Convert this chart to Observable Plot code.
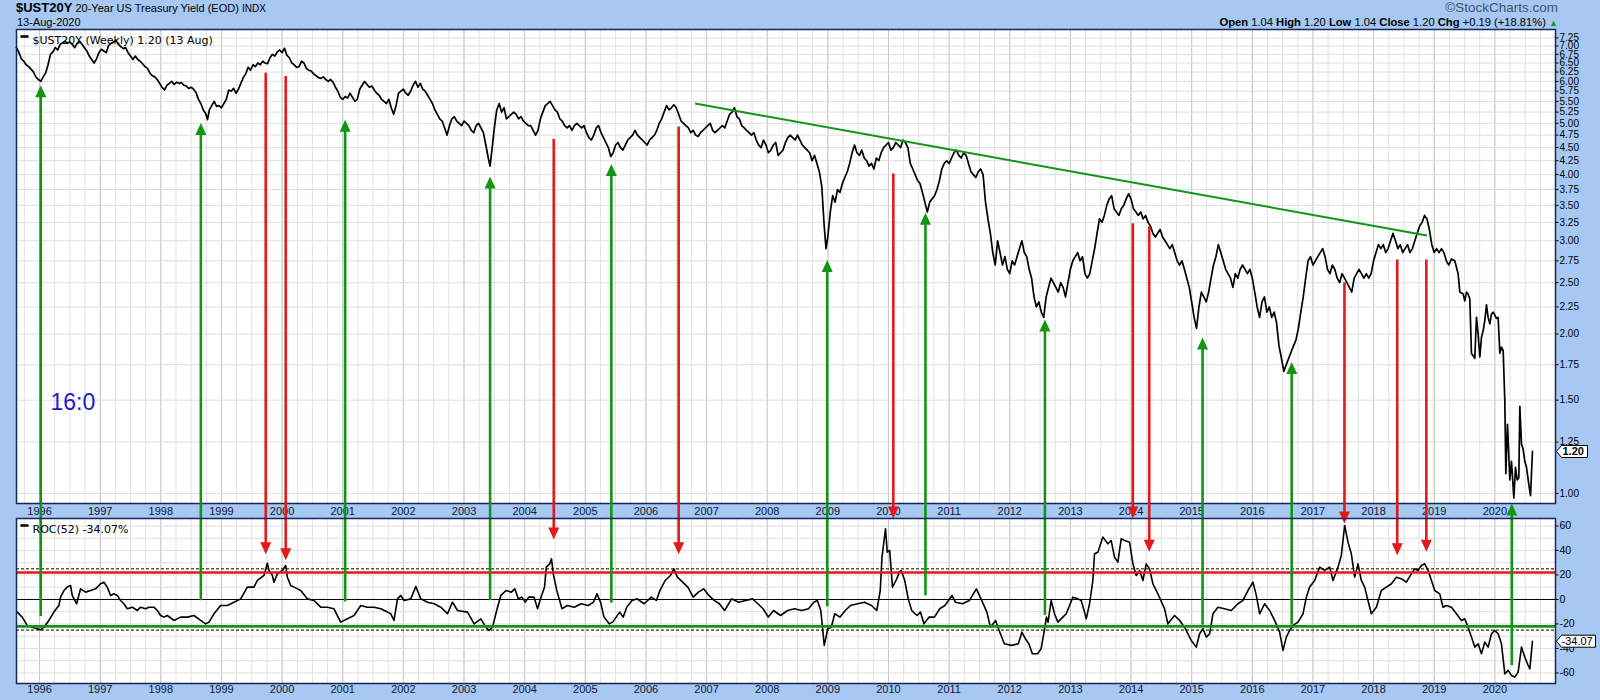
<!DOCTYPE html>
<html><head><meta charset="utf-8">
<script src="https://cdn.jsdelivr.net/npm/d3@7"></script>
<script src="https://cdn.jsdelivr.net/npm/@observablehq/plot@0.6"></script>
<style>
html,body{margin:0;padding:0;background:#a6c8f2;}
#chart{position:relative;width:1600px;height:700px;background:#a6c8f2;overflow:hidden;font-family:"Liberation Sans",Arial,sans-serif;color:#000;}
.abs{position:absolute;white-space:nowrap;}
.pl{position:absolute;left:0;width:1600px;}
</style></head><body>
<div id="chart">
  <div class="abs" style="left:16px;top:0px;font-size:11px;line-height:15px;"><b style="font-size:13px">$UST20Y</b> 20-Year US Treasury Yield (EOD) <span style="font-size:10px">INDX</span></div>
  <div class="abs" style="left:17px;top:15px;font-size:11px;line-height:14px;">13-Aug-2020</div>
  <div class="abs" style="right:42px;top:0px;font-size:13.5px;line-height:15px;color:#44526e;">©StockCharts.com</div>
  <div class="abs" style="right:42px;top:15px;font-size:11.2px;line-height:14px;"><b>Open</b> 1.04 <b>High</b> 1.20 <b>Low</b> 1.04 <b>Close</b> 1.20 <b>Chg</b> +0.19 (+18.81%) <span style="color:#139613;font-size:9px">▲</span></div>
  <div id="top" class="pl" style="top:29px"></div>
  <div id="band" class="pl" style="top:503px"></div>
  <div id="bottom" class="pl" style="top:518px"></div>
</div>
<script>
// ---------- data ----------
const yearTicks = [1996,1997,1998,1999,2000,2001,2002,2003,2004,2005,2006,2007,2008,2009,2010,2011,2012,2013,2014,2015,2016,2017,2018,2019,2020];
const yieldTicks = [1.00,1.25,1.50,1.75,2.00,2.25,2.50,2.75,3.00,3.25,3.50,3.75,4.00,4.25,4.50,4.75,5.00,5.25,5.50,5.75,6.00,6.25,6.50,6.75,7.00,7.25];
const rocTicks = [-60,-40,-20,0,20,40,60];
const rocGrid = [-60,-50,-40,-30,-20,-10,0,10,20,30,40,50,60];
const rocBands = [25,-25];
const rocSell = [22];
const rocBuy = [-22];

// weekly 20-year yield (decimal year, %)
const yieldPoints = [
[1995.62,6.95],[1995.66,6.80],[1995.70,6.62],[1995.74,6.55],[1995.78,6.45],[1995.82,6.40],[1995.86,6.33],[1995.90,6.25],[1995.94,6.12],[1995.98,6.05],
[1996.02,6.00],[1996.06,6.12],[1996.10,6.22],[1996.14,6.45],[1996.18,6.75],[1996.22,6.82],[1996.26,6.95],[1996.30,6.88],[1996.34,7.05],[1996.38,7.10],
[1996.42,7.15],[1996.46,7.08],[1996.50,7.12],[1996.54,7.05],[1996.58,6.95],[1996.62,7.08],[1996.66,7.15],[1996.70,7.05],[1996.74,6.95],[1996.78,6.85],
[1996.82,6.70],[1996.86,6.60],[1996.90,6.50],[1996.94,6.62],[1996.98,6.80],[1997.02,6.90],[1997.06,6.85],[1997.10,6.80],[1997.14,7.02],[1997.18,7.08],
[1997.22,7.12],[1997.26,7.18],[1997.30,7.05],[1997.34,6.98],[1997.38,6.92],[1997.42,6.95],[1997.46,6.80],[1997.50,6.70],[1997.54,6.60],[1997.58,6.70],
[1997.62,6.60],[1997.66,6.55],[1997.70,6.48],[1997.74,6.40],[1997.78,6.35],[1997.82,6.22],[1997.86,6.15],[1997.90,6.12],[1997.94,6.05],[1997.98,5.95],
[1998.02,5.85],[1998.06,5.78],[1998.10,5.90],[1998.14,5.95],[1998.18,6.00],[1998.22,5.92],[1998.26,5.98],[1998.30,5.95],[1998.34,5.97],[1998.38,5.90],
[1998.42,5.88],[1998.46,5.82],[1998.50,5.85],[1998.54,5.80],[1998.58,5.72],[1998.62,5.55],[1998.66,5.45],[1998.70,5.30],[1998.74,5.22],[1998.77,5.08],
[1998.80,5.30],[1998.84,5.40],[1998.88,5.50],[1998.92,5.38],[1998.96,5.40],[1999.00,5.35],[1999.04,5.45],[1999.08,5.55],[1999.12,5.78],[1999.16,5.75],
[1999.20,5.82],[1999.24,5.70],[1999.28,5.80],[1999.32,5.95],[1999.36,6.10],[1999.40,6.20],[1999.44,6.38],[1999.48,6.30],[1999.52,6.45],[1999.56,6.40],
[1999.60,6.50],[1999.64,6.45],[1999.68,6.55],[1999.72,6.50],[1999.76,6.48],[1999.80,6.65],[1999.84,6.75],[1999.88,6.70],[1999.92,6.82],[1999.96,6.88],
[2000.00,6.80],[2000.04,6.93],[2000.08,6.72],[2000.12,6.65],[2000.16,6.50],[2000.20,6.45],[2000.24,6.38],[2000.28,6.40],[2000.32,6.55],[2000.36,6.50],
[2000.40,6.35],[2000.44,6.30],[2000.48,6.28],[2000.52,6.20],[2000.56,6.15],[2000.60,6.10],[2000.64,6.08],[2000.68,6.12],[2000.72,6.05],[2000.76,6.00],
[2000.80,6.05],[2000.84,5.98],[2000.88,5.85],[2000.92,5.75],[2000.96,5.60],[2001.00,5.55],[2001.04,5.62],[2001.08,5.58],[2001.12,5.70],[2001.16,5.60],
[2001.20,5.50],[2001.24,5.55],[2001.28,5.80],[2001.32,5.90],[2001.36,6.00],[2001.40,5.92],[2001.44,5.85],[2001.48,5.88],[2001.52,5.78],[2001.56,5.70],
[2001.60,5.65],[2001.64,5.55],[2001.68,5.50],[2001.72,5.45],[2001.76,5.55],[2001.80,5.35],[2001.84,5.20],[2001.88,5.40],[2001.92,5.70],[2001.96,5.75],
[2002.00,5.80],[2002.04,5.70],[2002.08,5.65],[2002.12,5.75],[2002.16,5.90],[2002.20,6.00],[2002.24,5.85],[2002.28,5.95],[2002.32,5.80],[2002.36,5.75],
[2002.40,5.65],[2002.44,5.55],[2002.48,5.45],[2002.52,5.30],[2002.56,5.20],[2002.60,5.10],[2002.64,5.05],[2002.68,4.90],[2002.72,4.75],[2002.76,4.95],
[2002.80,5.10],[2002.84,5.15],[2002.88,5.05],[2002.92,5.00],[2002.96,4.95],[2003.00,5.05],[2003.04,5.00],[2003.08,4.95],[2003.12,4.85],[2003.16,4.80],
[2003.20,4.95],[2003.24,5.00],[2003.28,4.90],[2003.32,4.80],[2003.36,4.55],[2003.40,4.30],[2003.43,4.15],[2003.46,4.45],[2003.50,4.90],[2003.54,5.30],
[2003.58,5.45],[2003.62,5.25],[2003.66,5.35],[2003.70,5.10],[2003.74,5.15],[2003.78,5.20],[2003.82,5.25],[2003.86,5.20],[2003.90,5.10],[2003.94,5.15],
[2003.98,5.05],[2004.02,5.00],[2004.06,4.95],[2004.10,4.95],[2004.14,4.85],[2004.18,4.75],[2004.22,4.85],[2004.26,5.10],[2004.30,5.25],[2004.34,5.40],
[2004.38,5.45],[2004.42,5.50],[2004.46,5.40],[2004.50,5.30],[2004.54,5.25],[2004.58,5.10],[2004.62,5.05],[2004.66,4.95],[2004.70,4.90],[2004.74,4.95],
[2004.78,4.85],[2004.82,4.95],[2004.86,5.00],[2004.90,4.95],[2004.94,4.90],[2004.98,4.95],[2005.02,4.80],[2005.06,4.70],[2005.10,4.65],[2005.14,4.75],
[2005.18,4.90],[2005.22,4.95],[2005.26,4.80],[2005.30,4.70],[2005.34,4.60],[2005.38,4.50],[2005.42,4.33],[2005.46,4.40],[2005.50,4.55],[2005.54,4.60],
[2005.58,4.50],[2005.62,4.45],[2005.66,4.55],[2005.70,4.65],[2005.74,4.70],[2005.78,4.75],[2005.82,4.85],[2005.86,4.75],[2005.90,4.70],[2005.94,4.65],
[2005.98,4.60],[2006.02,4.55],[2006.06,4.65],[2006.10,4.70],[2006.14,4.75],[2006.18,4.85],[2006.22,5.00],[2006.26,5.10],[2006.30,5.25],[2006.34,5.40],
[2006.38,5.30],[2006.42,5.35],[2006.46,5.42],[2006.50,5.35],[2006.54,5.20],[2006.58,5.05],[2006.62,5.00],[2006.66,4.95],[2006.70,4.90],[2006.74,4.80],
[2006.78,4.85],[2006.82,4.75],[2006.86,4.72],[2006.90,4.80],[2006.94,4.85],[2006.98,4.90],[2007.02,4.95],[2007.06,5.00],[2007.10,4.85],[2007.14,4.80],
[2007.18,4.85],[2007.22,4.90],[2007.26,4.95],[2007.30,4.90],[2007.34,5.05],[2007.38,5.20],[2007.42,5.25],[2007.46,5.35],[2007.50,5.15],[2007.54,5.10],
[2007.58,4.95],[2007.62,4.90],[2007.66,4.85],[2007.70,4.80],[2007.74,4.75],[2007.78,4.80],[2007.82,4.65],[2007.86,4.55],[2007.90,4.50],[2007.94,4.65],
[2007.98,4.55],[2008.02,4.40],[2008.06,4.45],[2008.10,4.55],[2008.14,4.60],[2008.18,4.35],[2008.22,4.40],[2008.26,4.45],[2008.30,4.60],[2008.34,4.70],
[2008.38,4.75],[2008.42,4.70],[2008.46,4.65],[2008.50,4.75],[2008.54,4.65],[2008.58,4.55],[2008.62,4.50],[2008.66,4.45],[2008.70,4.40],[2008.74,4.25],
[2008.78,4.35],[2008.82,4.20],[2008.86,4.05],[2008.90,3.80],[2008.94,3.20],[2008.97,2.90],[2009.00,3.05],[2009.04,3.40],[2009.08,3.65],[2009.12,3.55],
[2009.16,3.75],[2009.20,3.70],[2009.24,3.85],[2009.28,3.95],[2009.32,4.05],[2009.36,4.20],[2009.40,4.40],[2009.44,4.55],[2009.48,4.40],[2009.52,4.35],
[2009.56,4.45],[2009.60,4.30],[2009.64,4.25],[2009.68,4.15],[2009.72,4.20],[2009.76,4.10],[2009.80,4.30],[2009.84,4.25],[2009.88,4.40],[2009.92,4.50],
[2009.96,4.55],[2010.00,4.60],[2010.04,4.45],[2010.08,4.50],[2010.12,4.60],[2010.16,4.55],[2010.20,4.50],[2010.24,4.65],[2010.28,4.60],[2010.32,4.50],
[2010.36,4.20],[2010.40,4.10],[2010.44,4.00],[2010.48,3.90],[2010.52,3.85],[2010.56,3.70],[2010.60,3.55],[2010.64,3.40],[2010.68,3.55],[2010.72,3.60],
[2010.76,3.65],[2010.80,3.75],[2010.84,3.90],[2010.88,4.10],[2010.92,4.20],[2010.96,4.25],[2011.00,4.20],[2011.04,4.30],[2011.08,4.40],[2011.12,4.45],
[2011.16,4.35],[2011.20,4.30],[2011.24,4.40],[2011.28,4.35],[2011.32,4.20],[2011.36,4.05],[2011.40,4.00],[2011.44,3.95],[2011.48,4.05],[2011.52,4.10],
[2011.56,4.00],[2011.60,3.55],[2011.64,3.30],[2011.68,3.10],[2011.72,2.85],[2011.76,2.70],[2011.80,3.00],[2011.84,2.85],[2011.88,2.70],[2011.92,2.80],
[2011.96,2.65],[2012.00,2.60],[2012.04,2.75],[2012.08,2.70],[2012.12,2.80],[2012.16,2.90],[2012.20,3.00],[2012.24,2.85],[2012.28,2.80],[2012.32,2.65],
[2012.36,2.55],[2012.40,2.35],[2012.44,2.25],[2012.48,2.30],[2012.52,2.20],[2012.56,2.15],[2012.60,2.35],[2012.64,2.45],[2012.68,2.55],[2012.72,2.50],
[2012.76,2.45],[2012.80,2.40],[2012.84,2.50],[2012.88,2.45],[2012.92,2.35],[2012.96,2.50],[2013.00,2.65],[2013.04,2.75],[2013.08,2.80],[2013.12,2.85],
[2013.16,2.75],[2013.20,2.80],[2013.24,2.60],[2013.28,2.55],[2013.32,2.60],[2013.36,2.75],[2013.40,2.90],[2013.44,3.10],[2013.48,3.30],[2013.52,3.25],
[2013.56,3.35],[2013.60,3.50],[2013.64,3.60],[2013.68,3.65],[2013.72,3.45],[2013.76,3.40],[2013.80,3.35],[2013.84,3.45],[2013.88,3.50],[2013.92,3.60],
[2013.96,3.68],[2014.00,3.60],[2014.04,3.45],[2014.08,3.40],[2014.12,3.35],[2014.16,3.40],[2014.20,3.30],[2014.24,3.35],[2014.28,3.25],[2014.32,3.20],
[2014.36,3.10],[2014.40,3.05],[2014.44,3.10],[2014.48,3.15],[2014.52,3.05],[2014.56,3.00],[2014.60,2.95],[2014.64,2.90],[2014.68,2.95],[2014.72,2.85],
[2014.76,2.75],[2014.80,2.70],[2014.84,2.75],[2014.88,2.65],[2014.92,2.55],[2014.96,2.45],[2015.00,2.30],[2015.04,2.15],[2015.08,2.05],[2015.12,2.25],
[2015.16,2.40],[2015.20,2.35],[2015.24,2.30],[2015.28,2.40],[2015.32,2.55],[2015.36,2.70],[2015.40,2.80],[2015.44,2.95],[2015.48,2.85],[2015.52,2.75],
[2015.56,2.65],[2015.60,2.60],[2015.64,2.55],[2015.68,2.45],[2015.72,2.60],[2015.76,2.55],[2015.80,2.65],[2015.84,2.70],[2015.88,2.65],[2015.92,2.60],
[2015.96,2.65],[2016.00,2.55],[2016.04,2.40],[2016.08,2.25],[2016.12,2.15],[2016.16,2.30],[2016.20,2.35],[2016.24,2.20],[2016.28,2.25],[2016.32,2.15],
[2016.36,2.20],[2016.40,2.10],[2016.44,1.90],[2016.48,1.80],[2016.52,1.70],[2016.56,1.75],[2016.60,1.80],[2016.64,1.85],[2016.68,1.90],[2016.72,1.95],
[2016.76,2.05],[2016.80,2.20],[2016.84,2.35],[2016.88,2.55],[2016.92,2.75],[2016.96,2.80],[2017.00,2.70],[2017.04,2.75],[2017.08,2.80],[2017.12,2.85],
[2017.16,2.90],[2017.20,2.80],[2017.24,2.65],[2017.28,2.60],[2017.32,2.70],[2017.36,2.65],[2017.40,2.55],[2017.44,2.50],[2017.48,2.60],[2017.52,2.55],
[2017.56,2.50],[2017.60,2.45],[2017.64,2.40],[2017.68,2.55],[2017.72,2.60],[2017.76,2.65],[2017.80,2.60],[2017.84,2.55],[2017.88,2.60],[2017.92,2.55],
[2017.96,2.60],[2018.00,2.75],[2018.04,2.85],[2018.08,2.95],[2018.12,2.90],[2018.16,2.95],[2018.20,2.85],[2018.24,2.90],[2018.28,3.00],[2018.32,3.10],
[2018.36,3.00],[2018.40,2.90],[2018.44,2.95],[2018.48,2.85],[2018.52,2.90],[2018.56,2.95],[2018.60,2.85],[2018.64,2.90],[2018.68,3.00],[2018.72,3.10],
[2018.76,3.20],[2018.80,3.25],[2018.84,3.35],[2018.88,3.30],[2018.92,3.15],[2018.96,2.95],[2019.00,2.85],[2019.04,2.90],[2019.08,2.85],[2019.12,2.90],
[2019.16,2.85],[2019.20,2.75],[2019.24,2.70],[2019.284,2.77],[2019.339,2.75],[2019.394,2.60],[2019.422,2.40],[2019.477,2.38],[2019.504,2.31],[2019.532,2.40],
[2019.559,2.38],[2019.587,2.33],[2019.614,1.84],[2019.669,1.80],[2019.697,2.15],[2019.724,2.00],[2019.752,1.81],[2019.779,1.97],[2019.807,2.03],[2019.834,2.12],
[2019.862,2.27],[2019.889,2.15],[2019.917,2.09],[2019.944,2.18],[2019.972,2.20],[2020.027,2.14],[2020.054,2.15],[2020.082,1.84],[2020.109,1.89],[2020.137,1.86],
[2020.164,1.50],[2020.181,1.09],[2020.208,1.35],[2020.247,1.06],[2020.274,1.15],[2020.313,0.98],[2020.340,1.12],[2020.368,1.06],[2020.395,1.07],[2020.412,1.46],
[2020.439,1.24],[2020.467,1.21],[2020.494,1.15],[2020.522,1.12],[2020.560,1.04],[2020.588,0.99],[2020.620,1.20]
];

// ROC(52) of the yield (decimal year, %)
const rocPoints = [
[1995.632,-10.3],[1995.714,-14.4],[1995.797,-21.2],[1995.879,-22.6],[1995.962,-23.9],[1996.017,-24.8],[1996.071,-22.6],[1996.154,-17.1],[1996.236,-10.3],[1996.319,-4.9],
[1996.347,1.9],[1996.402,7.3],[1996.457,10.1],[1996.512,11.4],[1996.539,3.3],[1996.611,-3.5],[1996.677,8.7],[1996.759,6.0],[1996.842,7.3],[1996.924,8.7],
[1997.007,12.8],[1997.061,14.1],[1997.117,10.1],[1997.172,3.3],[1997.226,4.6],[1997.282,3.3],[1997.337,-0.8],[1997.391,-3.5],[1997.447,-7.6],[1997.530,-6.3],
[1997.612,-9.0],[1997.667,-6.3],[1997.749,-7.6],[1997.804,-6.3],[1997.886,-6.3],[1997.942,-9.0],[1997.997,-13.1],[1998.051,-14.4],[1998.107,-13.1],[1998.216,-17.1],
[1998.327,-14.4],[1998.437,-14.4],[1998.546,-13.1],[1998.657,-17.1],[1998.739,-19.9],[1998.794,-18.5],[1998.876,-11.7],[1998.987,-4.9],[1999.097,-4.9],[1999.206,-2.2],
[1999.317,0.5],[1999.427,10.1],[1999.536,10.1],[1999.592,15.5],[1999.701,19.6],[1999.757,29.6],[1999.784,23.7],[1999.840,19.6],[1999.866,14.1],[1999.922,20.9],
[2000.005,23.7],[2000.059,27.7],[2000.087,18.2],[2000.142,11.4],[2000.196,10.1],[2000.307,7.3],[2000.417,0.5],[2000.526,-0.8],[2000.637,-6.3],[2000.747,-6.3],
[2000.856,-7.6],[2000.912,-13.1],[2000.967,-18.5],[2001.077,-15.8],[2001.186,-13.1],[2001.297,-4.9],[2001.407,-6.3],[2001.516,-6.3],[2001.627,-7.6],[2001.738,-10.3],
[2001.792,-11.7],[2001.846,-17.1],[2001.903,0.5],[2001.957,3.3],[2002.011,-0.8],[2002.122,0.5],[2002.205,10.6],[2002.287,0.5],[2002.398,-2.2],[2002.507,-3.5],
[2002.617,-6.3],[2002.728,-11.7],[2002.810,-2.2],[2002.893,-9.0],[2003.058,-10.3],[2003.167,-19.9],[2003.277,-15.8],[2003.360,-22.6],[2003.414,-25.3],[2003.470,-22.6],
[2003.553,-6.3],[2003.607,3.3],[2003.694,7.3],[2003.780,6.0],[2003.838,8.7],[2003.895,0.5],[2003.953,1.9],[2004.011,-2.2],[2004.068,1.9],[2004.155,1.9],
[2004.213,-7.6],[2004.270,1.9],[2004.328,10.1],[2004.357,26.4],[2004.414,29.1],[2004.443,33.2],[2004.472,20.9],[2004.530,7.3],[2004.616,-7.6],[2004.703,-4.9],
[2004.818,-6.3],[2004.933,-3.5],[2005.049,-4.9],[2005.135,-2.2],[2005.193,4.6],[2005.251,-2.2],[2005.308,-14.4],[2005.395,-19.9],[2005.452,-18.5],[2005.568,-10.3],
[2005.625,-14.4],[2005.683,-6.3],[2005.770,-0.8],[2005.856,0.5],[2005.971,-3.5],[2006.087,1.9],[2006.173,-0.8],[2006.231,7.3],[2006.318,15.5],[2006.404,19.6],
[2006.462,25.0],[2006.519,18.2],[2006.606,14.1],[2006.692,10.1],[2006.779,1.9],[2006.865,6.0],[2006.952,8.7],[2007.038,3.3],[2007.125,-0.8],[2007.211,-3.5],
[2007.298,-9.0],[2007.413,0.5],[2007.529,-2.2],[2007.644,-0.8],[2007.759,0.5],[2007.846,-3.5],[2007.932,-7.6],[2008.019,-14.4],[2008.105,-9.0],[2008.220,-13.1],
[2008.336,-9.0],[2008.451,-7.6],[2008.567,-9.0],[2008.682,-7.6],[2008.768,-2.2],[2008.826,-0.8],[2008.884,-9.0],[2008.941,-37.5],[2008.999,-23.9],[2009.057,-22.6],
[2009.114,-11.7],[2009.201,-14.4],[2009.287,-9.0],[2009.374,-4.9],[2009.489,-3.5],[2009.605,-2.2],[2009.720,-4.9],[2009.807,-9.0],[2009.864,7.3],[2009.893,34.5],
[2009.951,57.7],[2009.980,38.6],[2010.020,40.0],[2010.066,10.1],[2010.124,15.5],[2010.181,22.3],[2010.210,23.7],[2010.268,15.5],[2010.326,0.5],[2010.383,-9.0],
[2010.470,-13.1],[2010.527,-10.3],[2010.585,-19.9],[2010.672,-14.4],[2010.758,-14.4],[2010.845,-7.6],[2010.931,-4.9],[2011.047,3.3],[2011.104,-2.2],[2011.219,-3.5],
[2011.335,-0.8],[2011.450,8.7],[2011.537,-0.8],[2011.623,-10.3],[2011.681,-22.6],[2011.767,-17.1],[2011.825,-25.3],[2011.911,-36.2],[2012.027,-37.5],[2012.142,-36.2],
[2012.200,-26.7],[2012.258,-32.1],[2012.315,-36.2],[2012.373,-44.3],[2012.459,-44.3],[2012.517,-40.3],[2012.575,-23.9],[2012.604,-14.4],[2012.632,-18.5],[2012.683,-0.8],
[2012.738,-11.7],[2012.793,-18.5],[2012.876,-14.4],[2012.931,-11.7],[2012.986,-4.9],[2013.041,1.9],[2013.123,0.5],[2013.178,-0.8],[2013.233,-10.3],[2013.261,-15.8],
[2013.316,-3.5],[2013.371,15.5],[2013.398,37.3],[2013.453,38.6],[2013.536,50.9],[2013.618,45.4],[2013.673,48.1],[2013.728,34.5],[2013.783,30.5],[2013.838,49.5],
[2013.893,48.1],[2013.976,46.8],[2014.031,29.1],[2014.086,19.6],[2014.141,23.7],[2014.196,15.5],[2014.251,29.1],[2014.306,25.0],[2014.361,12.8],[2014.443,4.6],
[2014.553,-7.6],[2014.608,-19.9],[2014.718,-13.1],[2014.801,-17.1],[2014.883,-22.6],[2014.993,-33.5],[2015.076,-38.9],[2015.131,-28.0],[2015.186,-23.9],[2015.241,-30.7],
[2015.296,-28.0],[2015.351,-11.7],[2015.433,-6.3],[2015.543,-7.6],[2015.653,-9.0],[2015.763,-3.5],[2015.846,-0.8],[2015.928,7.3],[2016.011,14.1],[2016.066,3.3],
[2016.121,-11.7],[2016.203,-3.5],[2016.286,-9.0],[2016.368,-17.1],[2016.451,-26.7],[2016.506,-41.6],[2016.561,-30.7],[2016.616,-25.3],[2016.671,-21.2],[2016.753,-18.5],
[2016.836,-11.7],[2016.891,1.9],[2016.946,10.1],[2017.028,15.5],[2017.111,26.4],[2017.193,23.7],[2017.276,26.4],[2017.331,15.5],[2017.413,26.4],[2017.468,35.9],
[2017.523,60.4],[2017.578,46.8],[2017.633,37.3],[2017.688,18.2],[2017.743,29.1],[2017.798,15.5],[2017.853,10.1],[2017.908,-0.8],[2017.963,-11.7],[2018.046,-6.3],
[2018.128,7.3],[2018.211,10.1],[2018.294,12.8],[2018.376,18.2],[2018.458,16.9],[2018.541,14.1],[2018.623,20.9],[2018.678,25.0],[2018.733,23.7],[2018.788,27.7],
[2018.843,29.1],[2018.899,23.7],[2018.954,15.5],[2019.008,7.3],[2019.091,4.6],[2019.146,-6.3],[2019.201,-4.9],[2019.284,-6.3],[2019.366,-11.7],[2019.449,-17.1],
[2019.504,-15.8],[2019.559,-22.6],[2019.614,-30.7],[2019.669,-38.9],[2019.724,-36.2],[2019.779,-44.3],[2019.834,-34.8],[2019.889,-38.9],[2019.944,-28.0],[2019.999,-25.3],
[2020.054,-28.0],[2020.109,-36.2],[2020.164,-60.7],[2020.219,-57.9],[2020.274,-62.0],[2020.329,-63.4],[2020.384,-59.3],[2020.439,-38.9],[2020.494,-47.1],[2020.549,-53.9],
[2020.577,-56.6],[2020.620,-34.07]
];

// annotation arrows: green = buy (from ROC level up to yield level), red = sell (from yield level down to ROC level)
const greenArrowDates = [1996.02,1998.66,2001.04,2003.43,2005.43,2008.99,2010.61,2012.58,2015.18,2016.65,2020.28];
const greenArrowFromRoc = [-14,-1,-2,-1,-3,-6,3,-13,-21,-21,-54];
const greenArrowToYield = [5.90,5.01,5.08,3.97,4.19,2.76,3.39,2.13,1.97,1.77,null];
const redArrowDates = [1999.73,2000.06,2004.48,2006.54,2010.08,2014.03,2014.30,2017.52,2018.39,2018.87];
const redArrowFromYield = [6.22,6.13,4.66,4.92,4.01,3.23,3.19,2.50,2.76,2.76];
const redArrowToRoc = [37,32,49,37,null,null,39,62,36,39];
const trendDates = [2006.81,2018.88];
const trendYields = [5.45,3.07];
const noteLabels = ["16:0"];
const noteDates = [1996.18];
const noteYields = [1.485];
const lastYield = 1.20, lastRoc = -34.07;

// ---------- build ----------
const GREEN = "#149414", RED = "#e21a1a", NAVY = "#17275a";
const xDomain = [1995.62, 2021.0];
const yDomain = [0.957, 7.52];
const rocDomain = [-68.6, 66.1];
const yieldData = yieldPoints.map(([t, v]) => ({t, v}));
const rocData = rocPoints.map(([t, v]) => ({t, v}));
const greens = greenArrowDates.map((t, i) => ({t, from: greenArrowFromRoc[i], to: greenArrowToYield[i]}));
const reds = redArrowDates.map((t, i) => ({t, from: redArrowFromYield[i], to: redArrowToRoc[i]}));
const quarters = [1995.75].concat(...yearTicks.map(y => [y, y + 0.25, y + 0.5, y + 0.75]));
const trend = [{x1: trendDates[0], y1: trendYields[0], x2: trendDates[1], y2: trendYields[1]}];
const notes = noteLabels.map((label, i) => ({label, t: noteDates[i], v: noteYields[i]}));

const upHead = {draw(c) { c.moveTo(0, 0); c.lineTo(5.5, 12); c.lineTo(-5.5, 12); c.closePath(); }};
const downHead = {draw(c) { c.moveTo(0, 0); c.lineTo(5.5, -12); c.lineTo(-5.5, -12); c.closePath(); }};
const tickSym = {draw(c) { c.moveTo(0, 0); c.lineTo(3, 0); }};
const dashSym = {draw(c) { c.moveTo(0, 0); c.lineTo(8, 0); }};
const boxSym = (w) => ({draw(c) { c.moveTo(0, 0); c.lineTo(5, -6); c.lineTo(w, -6); c.lineTo(w, 6); c.lineTo(5, 6); c.closePath(); }});

const baseStyle = {background: "transparent", overflow: "visible", fontFamily: "Liberation Sans, Arial, sans-serif", fontSize: "11px", color: "#000"};
const common = {width: 1600, marginLeft: 16, marginRight: 45, style: baseStyle};

// top panel: yield, log scale
const topPlot = Plot.plot({
  ...common, height: 474, marginTop: 0, marginBottom: 0,
  x: {domain: xDomain, axis: null},
  y: {type: "log", domain: yDomain, axis: null},
  marks: [
    Plot.frame({fill: "white", stroke: "none"}),
    Plot.ruleX(quarters, {x: d => d, stroke: "#e2e2e2"}),
    Plot.ruleX(yearTicks, {x: d => d, stroke: "#c9c9c9"}),
    Plot.ruleY(yieldTicks, {y: d => d, stroke: "#dedede"}),
    Plot.text(yieldTicks, {y: d => d, frameAnchor: "right", dx: 4, textAnchor: "start", text: d => d.toFixed(2), fill: "#000", fontSize: 10}),
    Plot.dot(yieldTicks, {y: d => d, frameAnchor: "right", symbol: tickSym, stroke: "#000", fill: "none", strokeWidth: 1}),
    Plot.line(yieldData, {x: "t", y: "v", stroke: "#000", strokeWidth: 1.7}),
    Plot.link(trend, {x1: "x1", y1: "y1", x2: "x2", y2: "y2", stroke: GREEN, strokeWidth: 2}),
    Plot.ruleX(reds, {x: "t", y1: "from", y2: () => yDomain[0], stroke: RED, strokeWidth: 2.6}),
    Plot.ruleX(greens.filter(d => d.to != null), {x: "t", y1: "to", y2: () => yDomain[0], insetTop: 8, stroke: GREEN, strokeWidth: 2.6}),
    Plot.dot(greens.filter(d => d.to != null), {x: "t", y: "to", symbol: upHead, fill: GREEN, stroke: "none"}),
    Plot.text(notes, {x: "t", y: "v", text: "label", textAnchor: "start", fill: "#1b1bd0", fontSize: 23}),
    Plot.dot([0], {frameAnchor: "top-left", dx: 4, dy: 7, symbol: dashSym, stroke: "#000", strokeWidth: 2.5}),
    Plot.text(["$UST20Y (Weekly) 1.20 (13 Aug)"], {frameAnchor: "top-left", dx: 16, dy: 7, textAnchor: "start", fontFamily: "DejaVu Sans", fontSize: 11, fill: "#000"}),
    Plot.dot([lastYield], {y: d => d, frameAnchor: "right", dx: 1, symbol: boxSym(31), fill: "white", stroke: "#000", strokeWidth: 1}),
    Plot.text([lastYield], {y: d => d, frameAnchor: "right", dx: 7, textAnchor: "start", text: d => d.toFixed(2), fontWeight: "bold", fill: "#000"}),
    Plot.frame({stroke: NAVY, strokeWidth: 1.5})
  ]
});
document.getElementById("top").appendChild(topPlot);

// date band between the panels
const bandPlot = Plot.plot({
  ...common, height: 15, marginTop: 0, marginBottom: 0,
  x: {domain: xDomain, axis: null},
  marks: [
    Plot.text(yearTicks, {x: d => d, text: d => String(d), frameAnchor: "middle", fill: "#0d1633"}),
    Plot.ruleX(greens.filter(d => d.to != null), {x: "t", stroke: GREEN, strokeWidth: 2.6}),
    Plot.ruleX(greens.filter(d => d.to == null), {x: "t", insetTop: 8, stroke: GREEN, strokeWidth: 2.6}),
    Plot.dot(greens.filter(d => d.to == null), {x: "t", frameAnchor: "top", symbol: upHead, fill: GREEN, stroke: "none"}),
    Plot.ruleX(reds.filter(d => d.to != null), {x: "t", stroke: RED, strokeWidth: 2.6}),
    Plot.ruleX(reds.filter(d => d.to == null), {x: "t", insetBottom: 8, stroke: RED, strokeWidth: 2.6}),
    Plot.dot(reds.filter(d => d.to == null), {x: "t", frameAnchor: "bottom", symbol: downHead, fill: RED, stroke: "none"})
  ]
});
document.getElementById("band").appendChild(bandPlot);

// bottom panel: ROC(52)
const bottomPlot = Plot.plot({
  ...common, height: 182, marginTop: 0, marginBottom: 17,
  x: {domain: xDomain, axis: null},
  y: {domain: rocDomain, axis: null},
  marks: [
    Plot.frame({fill: "white", stroke: "none"}),
    Plot.ruleX(quarters, {x: d => d, stroke: "#e2e2e2"}),
    Plot.ruleX(yearTicks, {x: d => d, stroke: "#c9c9c9"}),
    Plot.ruleY(rocGrid, {y: d => d, stroke: "#dedede"}),
    Plot.text(rocTicks, {y: d => d, frameAnchor: "right", dx: 4, textAnchor: "start", text: d => String(d), fill: "#000", fontSize: 10.5}),
    Plot.dot(rocTicks, {y: d => d, frameAnchor: "right", symbol: tickSym, stroke: "#000", fill: "none", strokeWidth: 1}),
    Plot.text(yearTicks, {x: d => d, text: d => String(d), frameAnchor: "bottom", dy: 9, fill: "#0d1633"}),
    Plot.ruleY([0], {y: d => d, stroke: "#000", strokeWidth: 1}),
    Plot.ruleY(rocBands, {y: d => d, stroke: "#000", strokeWidth: 1, strokeDasharray: "3,2"}),
    Plot.line(rocData, {x: "t", y: "v", stroke: "#000", strokeWidth: 1.6}),
    Plot.ruleY(rocSell, {y: d => d, stroke: RED, strokeWidth: 2.6}),
    Plot.ruleY(rocBuy, {y: d => d, stroke: GREEN, strokeWidth: 2.6}),
    Plot.ruleX(greens, {x: "t", y1: () => rocDomain[1], y2: "from", stroke: GREEN, strokeWidth: 2.6}),
    Plot.ruleX(reds.filter(d => d.to != null), {x: "t", y1: () => rocDomain[1], y2: "to", insetBottom: 8, stroke: RED, strokeWidth: 2.6}),
    Plot.dot(reds.filter(d => d.to != null), {x: "t", y: "to", symbol: downHead, fill: RED, stroke: "none"}),
    Plot.dot([0], {frameAnchor: "top-left", dx: 4, dy: 7, symbol: dashSym, stroke: "#000", strokeWidth: 2.5}),
    Plot.text(["ROC(52) -34.07%"], {frameAnchor: "top-left", dx: 16, dy: 7, textAnchor: "start", fontFamily: "DejaVu Sans", fontSize: 11, fill: "#000"}),
    Plot.dot([lastRoc], {y: d => d, frameAnchor: "right", dx: 1, symbol: boxSym(39), fill: "white", stroke: "#000", strokeWidth: 1}),
    Plot.text([lastRoc], {y: d => d, frameAnchor: "right", dx: 6, textAnchor: "start", text: d => d.toFixed(2), fill: "#000"}),
    Plot.frame({stroke: NAVY, strokeWidth: 1.5})
  ]
});
document.getElementById("bottom").appendChild(bottomPlot);
</script>
</body></html>
